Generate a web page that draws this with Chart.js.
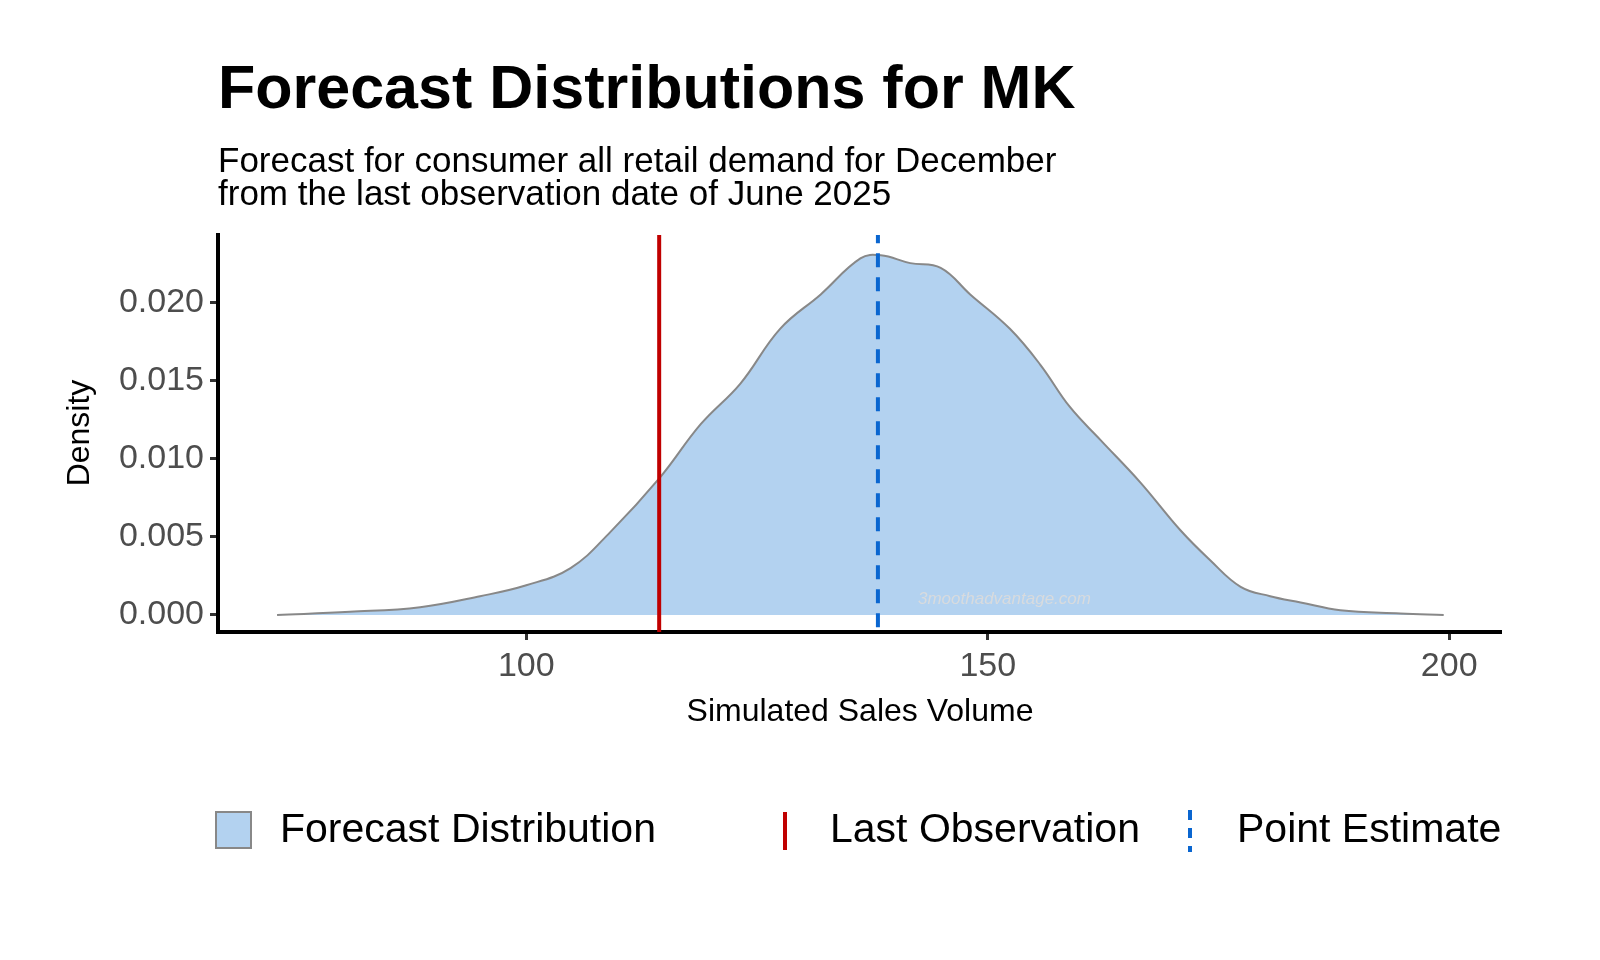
<!DOCTYPE html>
<html>
<head>
<meta charset="utf-8">
<script src="https://cdn.jsdelivr.net/npm/chart.js@4"></script>
<style>
  html, body { margin: 0; padding: 0; background: #fff; }
  #wrap { width: 1600px; height: 960px; position: relative; }
</style>
</head>
<body>
<div id="wrap"><canvas id="densityChart" width="1600" height="960"></canvas></div>
<script>
// density curve
const salesX = [73, 80.9, 88.5, 95, 100, 104.8, 109.1, 114.5, 118.9, 123.2, 127.5, 131.9, 136.2, 138.4, 141.6, 144.9, 148.1, 152.4, 155.7, 158.9, 162.2, 166.5, 170.9, 174.1, 177.4, 180.6, 183.9, 188.2, 194.7, 199.4];
const densityY = [0, 0.0002, 0.0005, 0.0012, 0.0019, 0.003, 0.0053, 0.0088, 0.0122, 0.0148, 0.0183, 0.0205, 0.0228, 0.0230, 0.0225, 0.0222, 0.0205, 0.0183, 0.016, 0.0133, 0.0112, 0.0085, 0.0054, 0.0035, 0.0018, 0.0012, 0.0008, 0.0003, 0.0001, 0];
const lastObservation = 114.4;
const pointEstimate = 138.1;
const xTicks = [100, 150, 200];
const yTicks = [0, 0.005, 0.01, 0.015, 0.02];

const FONT = "Liberation Sans, Arial, sans-serif";

const extrasPlugin = {
  id: 'extras',
  afterDraw(chart) {
    const ctx = chart.ctx;
    ctx.save();
    ctx.fillStyle = '#000';
    ctx.textBaseline = 'alphabetic';
    ctx.font = 'bold 61px ' + FONT;
    ctx.fillText('Forecast Distributions for MK', 218, 108);
    ctx.font = '35px ' + FONT;
    ctx.fillText('Forecast for consumer all retail demand for December', 218, 172);
    ctx.fillText('from the last observation date of June 2025', 218, 205);

    // axis titles
    ctx.font = '32px ' + FONT;
    ctx.textAlign = 'center';
    ctx.textBaseline = 'middle';
    ctx.fillText('Simulated Sales Volume', 860, 712);
    ctx.save();
    ctx.translate(80, 433);
    ctx.rotate(-Math.PI / 2);
    ctx.fillText('Density', 0, 0);
    ctx.restore();
    ctx.textAlign = 'left';

    // watermark
    ctx.textBaseline = 'alphabetic';
    ctx.font = 'italic 17px ' + FONT;
    ctx.fillStyle = 'rgba(220,220,220,0.9)';
    ctx.fillText('3moothadvantage.com', 918, 604);

    // legend
    ctx.fillStyle = '#b3d2f0';
    ctx.strokeStyle = '#888';
    ctx.lineWidth = 2;
    ctx.fillRect(216, 812, 35, 36);
    ctx.strokeRect(216, 812, 35, 36);
    ctx.fillStyle = '#000';
    ctx.font = '41px ' + FONT;
    ctx.textBaseline = 'middle';
    ctx.fillText('Forecast Distribution', 280, 831);
    ctx.fillText('Last Observation', 830, 831);
    ctx.fillText('Point Estimate', 1237, 831);
    ctx.strokeStyle = '#c00000';
    ctx.lineWidth = 4;
    ctx.beginPath(); ctx.moveTo(785, 812); ctx.lineTo(785, 850); ctx.stroke();
    ctx.strokeStyle = '#0a66d0';
    ctx.setLineDash([10, 8]);
    ctx.beginPath(); ctx.moveTo(1190, 810); ctx.lineTo(1190, 852); ctx.stroke();
    ctx.restore();
  }
};

new Chart(document.getElementById('densityChart'), {
  type: 'line',
  data: {
    datasets: [
      {
        data: salesX.map((x, i) => ({ x: x, y: densityY[i] })),
        borderColor: '#888',
        borderWidth: 2,
        backgroundColor: '#b3d2f0',
        fill: 'origin',
        tension: 0.4,
        pointRadius: 0,
        order: 3
      },
      {
        data: [{ x: lastObservation, y: -0.01 }, { x: lastObservation, y: 0.03 }],
        borderColor: '#c00000',
        borderWidth: 4,
        pointRadius: 0,
        order: 1
      },
      {
        data: [{ x: pointEstimate, y: -0.01 }, { x: pointEstimate, y: 0.03 }],
        borderColor: '#0a66d0',
        borderWidth: 4,
        borderDash: [14, 10],
        pointRadius: 0,
        order: 2
      }
    ]
  },
  options: {
    responsive: false,
    animation: false,
    layout: { padding: { top: 235, right: 100, left: 0, bottom: 0 } },
    plugins: { legend: { display: false }, tooltip: { enabled: false } },
    scales: {
      x: {
        type: 'linear',
        min: 66.6, max: 205.5,
        afterFit: s => { s.height = 328; },
        afterBuildTicks: s => { s.ticks = xTicks.map(v => ({ value: v })); },
        border: { color: '#000', width: 4 },
        grid: { drawOnChartArea: false, drawTicks: true, tickLength: 8, color: '#333', lineWidth: 3 },
        ticks: { color: '#4d4d4d', font: { size: 34, family: FONT }, padding: 6 }
      },
      y: {
        min: -0.00109, max: 0.0243,
        afterFit: s => { s.width = 218; },
        afterBuildTicks: s => { s.ticks = yTicks.map(v => ({ value: v })); },
        border: { color: '#000', width: 4 },
        grid: { drawOnChartArea: false, drawTicks: true, tickLength: 8, color: '#333', lineWidth: 3 },
        ticks: { color: '#4d4d4d', font: { size: 34, family: FONT }, padding: 6, callback: v => v.toFixed(3) }
      }
    }
  },
  plugins: [extrasPlugin]
});
</script>
</body>
</html>
